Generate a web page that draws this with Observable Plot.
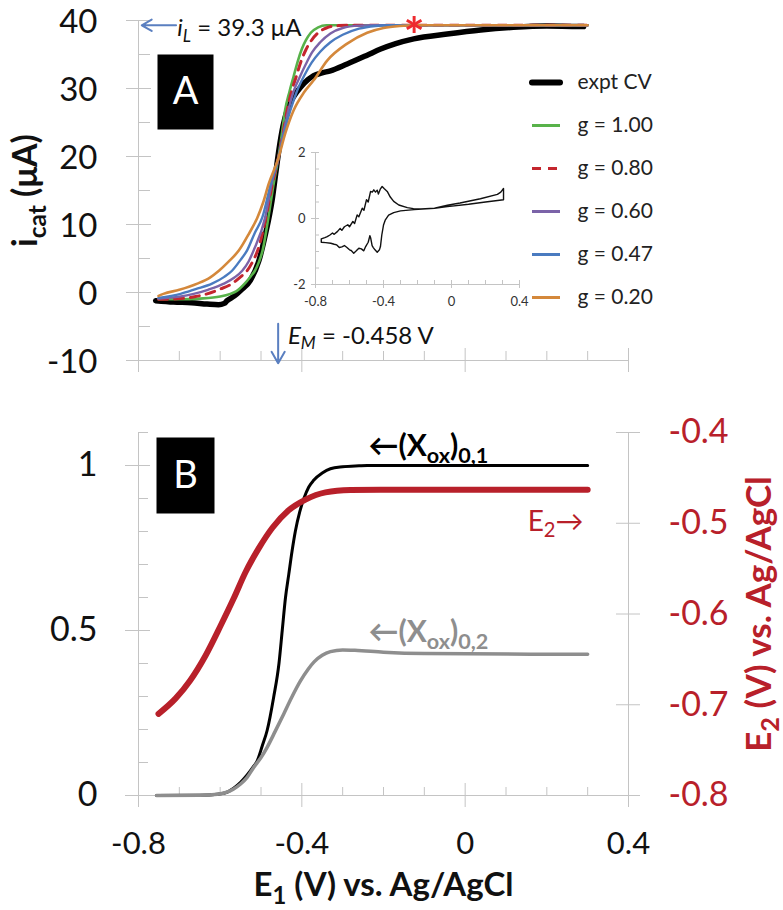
<!DOCTYPE html>
<html><head><meta charset="utf-8">
<script src="https://cdn.jsdelivr.net/npm/d3@7"></script>
<script src="https://cdn.jsdelivr.net/npm/@observablehq/plot@0.6"></script>
<style>
html,body{margin:0;padding:0;background:#fff;}
#chart{position:relative;width:783px;height:910px;overflow:hidden;background:#fff;}
#chart svg{position:absolute;overflow:visible;}
</style></head><body><div id="chart"></div>
<script>
// ---------------- data ----------------
const E_M = -0.458;      // V
const I_L = 39.3;        // µA

// Panel A: [E1 (V), i_cat (µA)]
const exptCV = [[-0.758,-1.2],[-0.714,-1.4],[-0.67,-1.5],[-0.632,-1.7],[-0.604,-1.8],[-0.59,-1.6],[-0.583,-1.2],[-0.565,-0.5],[-0.55,0.3],[-0.526,1.8],[-0.505,4.7],[-0.489,8.6],[-0.473,13.5],[-0.464,17.5],[-0.456,21],[-0.446,24.5],[-0.436,26.8],[-0.42,28.8],[-0.403,30.2],[-0.385,31.3],[-0.371,31.9],[-0.35,32.3],[-0.33,32.6],[-0.289,33.6],[-0.24,34.9],[-0.207,35.8],[-0.17,36.6],[-0.126,37.3],[-0.044,38.0],[0.038,38.6],[0.118,39.0],[0.2,39.2],[0.29,39.1]];
const simG100 = [[-0.751,-1.0],[-0.70,-1.0],[-0.65,-0.9],[-0.60,-0.6],[-0.575,-0.2],[-0.56,0.2],[-0.54,1.3],[-0.525,2.4],[-0.515,3.2],[-0.505,4.5],[-0.496,6.2],[-0.482,11],[-0.469,16],[-0.458,19.65],[-0.449,23.3],[-0.441,26.8],[-0.43,29.6],[-0.42,31.8],[-0.41,34.0],[-0.40,35.8],[-0.39,37.1],[-0.378,38.2],[-0.36,39.0],[-0.34,39.3],[0.3,39.3]];
const simG080 = [[-0.751,-1.0],[-0.70,-0.9],[-0.66,-0.6],[-0.632,-0.2],[-0.60,0.5],[-0.571,1.3],[-0.55,2.3],[-0.534,3.2],[-0.52,4.6],[-0.508,6.2],[-0.488,11],[-0.472,16],[-0.458,19.65],[-0.446,23.4],[-0.436,26.8],[-0.425,29.6],[-0.414,31.7],[-0.402,34],[-0.39,35.7],[-0.375,37.2],[-0.36,38.2],[-0.34,38.9],[-0.31,39.25],[-0.28,39.3],[0.3,39.3]];
const simG060 = [[-0.751,-0.9],[-0.70,-0.6],[-0.665,-0.2],[-0.63,0.4],[-0.591,1.3],[-0.565,2.2],[-0.546,3.2],[-0.53,4.6],[-0.518,6.2],[-0.49,11],[-0.474,16],[-0.458,19.65],[-0.445,23.5],[-0.433,26.8],[-0.42,29.6],[-0.405,31.7],[-0.39,33.6],[-0.375,35.3],[-0.355,36.8],[-0.33,38.1],[-0.30,38.9],[-0.26,39.25],[-0.23,39.3],[0.3,39.3]];
const simG047 = [[-0.751,-0.8],[-0.697,-0.2],[-0.66,0.5],[-0.62,1.3],[-0.59,2.3],[-0.571,3.2],[-0.55,4.8],[-0.534,6.2],[-0.515,8.8],[-0.497,11],[-0.476,16],[-0.458,19.65],[-0.443,23.6],[-0.428,26.8],[-0.412,29.6],[-0.395,31.8],[-0.376,33.8],[-0.355,35.4],[-0.33,36.8],[-0.30,37.9],[-0.26,38.8],[-0.22,39.2],[-0.19,39.3],[0.3,39.3]];
const simG020 = [[-0.751,-0.5],[-0.739,-0.2],[-0.70,0.4],[-0.656,1.3],[-0.625,2.2],[-0.603,3.2],[-0.58,4.5],[-0.554,6.2],[-0.53,8.6],[-0.509,11],[-0.495,13.2],[-0.481,16],[-0.458,19.65],[-0.44,23.5],[-0.42,26.8],[-0.395,29.4],[-0.371,31.2],[-0.338,34.1],[-0.289,36.6],[-0.24,38.2],[-0.2,38.9],[-0.16,39.2],[-0.126,39.3],[0.3,39.3]];
const seriesNames = ["expt CV","g = 1.00","g = 0.80","g = 0.60","g = 0.47","g = 0.20"];
const seriesColors = ["#000000","#58b24a","#c4262e","#7b63a8","#4a7bc0","#d4883b"];
const asteriskAt = [[-0.125, 39.3]];

// Inset CV loop: [E (V), i (µA)]
const insetCV = [[-0.766,-0.62],[-0.745,-0.58],[-0.731,-0.55],[-0.715,-0.50],[-0.70,-0.44],[-0.69,-0.48],[-0.67,-0.39],[-0.655,-0.30],[-0.645,-0.36],[-0.63,-0.25],[-0.61,-0.19],[-0.60,-0.25],[-0.58,-0.09],[-0.57,-0.15],[-0.555,0.11],[-0.545,0.05],[-0.525,0.31],[-0.515,0.25],[-0.50,0.57],[-0.49,0.50],[-0.476,0.82],[-0.466,0.80],[-0.457,0.87],[-0.447,0.80],[-0.437,0.86],[-0.43,0.74],[-0.418,0.90],[-0.408,0.97],[-0.395,0.90],[-0.378,0.82],[-0.36,0.65],[-0.34,0.52],[-0.31,0.41],[-0.26,0.33],[-0.224,0.30],[-0.18,0.29],[-0.1,0.31],[-0.024,0.40],[0.05,0.47],[0.17,0.6],[0.27,0.73],[0.29,0.8],[0.306,0.91],
  [0.306,0.57],[0.2,0.5],[0.1,0.43],[-0.024,0.36],[-0.1,0.31],[-0.22,0.27],[-0.3,0.23],[-0.34,0.18],[-0.37,0.1],[-0.39,-0.05],[-0.40,-0.2],[-0.41,-0.5],[-0.418,-0.85],[-0.424,-0.95],[-0.437,-1.02],[-0.45,-0.95],[-0.46,-0.88],[-0.467,-0.82],[-0.475,-0.6],[-0.48,-0.52],[-0.49,-0.72],[-0.505,-0.85],[-0.516,-0.98],[-0.53,-0.92],[-0.545,-0.9],[-0.56,-0.98],[-0.575,-1.05],[-0.59,-0.97],[-0.60,-0.95],[-0.615,-0.88],[-0.63,-0.82],[-0.645,-0.86],[-0.66,-0.88],[-0.675,-0.8],[-0.69,-0.78],[-0.71,-0.75],[-0.74,-0.73],[-0.766,-0.72],[-0.766,-0.62]];

// Panel B: [E1 (V), value]
const xox01 = [[-0.756,0],[-0.65,0.001],[-0.607,0.004],[-0.58,0.012],[-0.567,0.022],[-0.55,0.04],[-0.534,0.062],[-0.52,0.085],[-0.509,0.106],[-0.497,0.15],[-0.485,0.197],[-0.469,0.298],[-0.456,0.4],[-0.448,0.5],[-0.44,0.6],[-0.432,0.67],[-0.424,0.74],[-0.416,0.80],[-0.405,0.86],[-0.395,0.9],[-0.383,0.935],[-0.371,0.955],[-0.35,0.977],[-0.33,0.99],[-0.3,0.996],[-0.26,0.999],[-0.24,1.0],[0.3,1.0]];
const xox02 = [[-0.756,0],[-0.65,0.001],[-0.607,0.004],[-0.58,0.012],[-0.567,0.02],[-0.55,0.035],[-0.534,0.055],[-0.518,0.085],[-0.5,0.115],[-0.485,0.146],[-0.465,0.195],[-0.444,0.248],[-0.425,0.297],[-0.403,0.348],[-0.385,0.382],[-0.37,0.405],[-0.35,0.425],[-0.33,0.436],[-0.3,0.441],[-0.27,0.44],[-0.2,0.434],[-0.1,0.43],[0.3,0.428]];
const e2Curve = [[-0.751,-0.710],[-0.709,-0.693],[-0.673,-0.673],[-0.636,-0.646],[-0.599,-0.613],[-0.567,-0.583],[-0.538,-0.554],[-0.506,-0.528],[-0.472,-0.505],[-0.433,-0.486],[-0.391,-0.474],[-0.342,-0.466],[-0.281,-0.4634],[-0.207,-0.463],[0.3,-0.463]];

// ticks
const yTicksA = [-10,0,10,20,30,40];
const yMinorA = [-5,5,15,25,35];
const xTicks = [-0.8,-0.4,0,0.4];
const xMinor = [-0.7,-0.6,-0.5,-0.3,-0.2,-0.1,0.1,0.2,0.3];
const yTicksBL = [0,0.5,1];
const yMinorBL = [0.1,0.2,0.3,0.4,0.6,0.7,0.8,0.9,1.1];
const yTicksBR = [-0.8,-0.7,-0.6,-0.5,-0.4];
const insetYTicks = [-2,0,2];
const insetYMinor = [-1.5,-1,-0.5,0.5,1,1.5];
const insetXTicks = [-0.8,-0.4,0,0.4];
const insetXMinor = [-0.7,-0.6,-0.5,-0.3,-0.2,-0.1,0.1,0.2,0.3];

// ---------------- styling ----------------
const FONT = "Lato, 'Open Sans', sans-serif";
const AX = "#c4c4c4";
const RED = "#b8202a";
const GRAY = "#8e8e8e";
const BLUEARROW = "#5a7fc0";
const fmt = d => String(d);
const e2ToY = e => (e + 0.8) / 0.4 * 1.1;   // right axis (E2) onto left scale (0..1.1)
const X = d => d[0], Y = d => d[1];

const chart = document.getElementById("chart");

// ---------------- Panel A ----------------
const plotA = Plot.plot({
  width: 783, height: 390, marginLeft: 138, marginRight: 155, marginTop: 20, marginBottom: 30,
  x: {domain: [-0.8, 0.4], axis: null},
  y: {domain: [-10, 40], axis: null},
  style: {background: "transparent", fontFamily: FONT, overflow: "visible"},
  marks: [
    Plot.frame({fill: "black", stroke: null, insetLeft: 19, insetTop: 34, insetRight: 415, insetBottom: 231}),
    Plot.text(["A"], {text: d => d, frameAnchor: "top-left", textAnchor: "middle", dx: 47, dy: 71, fill: "white", fontSize: 38, lineAnchor: "middle"}),
    Plot.ruleX([-0.8], {stroke: AX}),
    Plot.ruleY([-10], {stroke: AX}),
    Plot.tickY(yMinorA, {y: d => d, stroke: AX, insetRight: 478}),
    Plot.tickY(yTicksA, {y: d => d, stroke: AX, dx: -12, insetRight: 465}),
    Plot.tickX(xMinor, {x: d => d, stroke: AX, insetTop: 331}),
    Plot.tickX(xTicks, {x: d => d, stroke: AX, dy: 12, insetTop: 316}),
    Plot.text(yTicksA, {y: d => d, text: fmt, frameAnchor: "left", textAnchor: "end", dx: -41, dy: 2, fontSize: 33, fill: "#111"}),
    Plot.text(["i_{cat} (μA)"], {text: d => d, frameAnchor: "left", textAnchor: "middle", dx: -112, rotate: -90, fontSize: 34, fontWeight: "bold", fill: "#111"}),
    Plot.line(exptCV, {x: X, y: Y, stroke: seriesColors[0], strokeWidth: 5.5, curve: "monotone-x", strokeLinecap: "round"}),
    Plot.line(simG100, {x: X, y: Y, stroke: seriesColors[1], strokeWidth: 2.6, curve: "monotone-x"}),
    Plot.line(simG080, {x: X, y: Y, stroke: seriesColors[2], strokeWidth: 3, curve: "monotone-x", strokeDasharray: "9,7"}),
    Plot.line(simG060, {x: X, y: Y, stroke: seriesColors[3], strokeWidth: 2.4, curve: "monotone-x"}),
    Plot.line(simG047, {x: X, y: Y, stroke: seriesColors[4], strokeWidth: 2.4, curve: "monotone-x"}),
    Plot.line(simG020, {x: X, y: Y, stroke: seriesColors[5], strokeWidth: 2.6, curve: "monotone-x"}),
    Plot.arrow([I_L], {x1: -0.708, x2: -0.792, y1: d => d, y2: d => d, stroke: BLUEARROW, strokeWidth: 2, headLength: 10}),
    Plot.text([I_L], {x: -0.705, y: d => d, text: d => `%{i}%_{L} = ${d} μA`, textAnchor: "start", lineAnchor: "middle", dy: 3, fontSize: 24, fill: "#111"}),
    Plot.arrow([E_M], {x1: d => d, x2: d => d, y1: -4.6, y2: -10.4, stroke: BLUEARROW, strokeWidth: 2, headLength: 10}),
    Plot.text([E_M], {x: -0.434, y: -6.4, text: d => `%{E}%_{M} = ${d} V`, textAnchor: "start", lineAnchor: "middle", fontSize: 24, fill: "#111"}),
    Plot.text(asteriskAt, {x: X, y: Y, text: () => "*", fill: "#ee2a2f", fontSize: 50, fontWeight: "bold", lineAnchor: "middle", dy: 13})
  ]
});
plotA.style.left = "0px"; plotA.style.top = "0px";
chart.appendChild(plotA);

// ---------------- Inset ----------------
const plotInset = Plot.plot({
  width: 260, height: 180, marginLeft: 50, marginRight: 6, marginTop: 17, marginBottom: 31,
  x: {domain: [-0.8, 0.4], axis: null},
  y: {domain: [-2, 2], axis: null},
  style: {background: "transparent", fontFamily: FONT, overflow: "visible"},
  marks: [
    Plot.ruleX([-0.8], {stroke: AX}),
    Plot.ruleY([-2], {stroke: AX}),
    Plot.tickY(insetYMinor, {y: d => d, stroke: AX, insetRight: 200}),
    Plot.tickY(insetYTicks, {y: d => d, stroke: AX, dx: -4, insetRight: 196}),
    Plot.tickX(insetXMinor, {x: d => d, stroke: AX, insetTop: 128}),
    Plot.tickX(insetXTicks, {x: d => d, stroke: AX, dy: 4, insetTop: 124}),
    Plot.text(insetYTicks, {y: d => d, text: fmt, frameAnchor: "left", textAnchor: "end", dx: -10, fontSize: 13, fill: "#333"}),
    Plot.text(insetXTicks, {x: d => d, text: fmt, frameAnchor: "bottom", textAnchor: "middle", lineAnchor: "middle", dy: 17, fontSize: 13, fill: "#333"}),
    Plot.line(insetCV, {x: X, y: Y, stroke: "#111", strokeWidth: 1.4})
  ]
});
plotInset.style.left = "265px"; plotInset.style.top = "135px";
chart.appendChild(plotInset);

// ---------------- Legend (panel A) ----------------
const legendRows = seriesNames.map((name, k) => ({name, color: seriesColors[k]}));
const plotLegend = Plot.plot({
  width: 230, height: 260, margin: 0,
  x: {domain: [0, 1], range: [12, 40], axis: null},
  y: {type: "point", domain: seriesNames, range: [21, 237], padding: 0, axis: null},
  color: {type: "identity"},
  style: {background: "transparent", fontFamily: FONT, overflow: "visible"},
  marks: [
    Plot.ruleY(legendRows.filter(r => r.name === "expt CV"), {y: "name", x1: 0, x2: 1, stroke: "color", strokeWidth: 6, strokeLinecap: "round"}),
    Plot.ruleY(legendRows.filter(r => r.name === "g = 0.80"), {y: "name", x1: 0, x2: 1, stroke: "color", strokeWidth: 3, strokeDasharray: "9,7"}),
    Plot.ruleY(legendRows.filter(r => r.name !== "expt CV" && r.name !== "g = 0.80"), {y: "name", x1: 0, x2: 1, stroke: "color", strokeWidth: 3}),
    Plot.text(legendRows, {x: 1, y: "name", text: "name", dx: 17, textAnchor: "start", fontSize: 21, fill: "#222"})
  ]
});
plotLegend.style.left = "520px"; plotLegend.style.top = "60px";
chart.appendChild(plotLegend);

// ---------------- Panel B ----------------
const plotB = Plot.plot({
  width: 783, height: 520, marginLeft: 138, marginRight: 155, marginTop: 42, marginBottom: 115,
  x: {domain: [-0.8, 0.4], axis: null},
  y: {domain: [0, 1.1], axis: null},
  style: {background: "transparent", fontFamily: FONT, overflow: "visible"},
  marks: [
    Plot.frame({fill: "black", stroke: null, insetLeft: 18, insetTop: 5, insetRight: 414, insetBottom: 282}),
    Plot.text(["B"], {text: d => d, frameAnchor: "top-left", textAnchor: "middle", dx: 47, dy: 43, fill: "white", fontSize: 38, lineAnchor: "middle"}),
    Plot.ruleX([-0.8], {stroke: AX}),
    Plot.ruleX([0.4], {stroke: AX}),
    Plot.ruleY([0], {stroke: AX}),
    Plot.tickY(yMinorBL, {y: d => d, stroke: AX, insetRight: 480}),
    Plot.tickY(yTicksBL, {y: d => d, stroke: AX, dx: -13, insetRight: 465}),
    Plot.tickY(yTicksBR, {y: e2ToY, stroke: AX, dx: 12, insetLeft: 466}),
    Plot.tickX(xMinor, {x: d => d, stroke: AX, insetTop: 355}),
    Plot.tickX(xTicks, {x: d => d, stroke: AX, dy: 12, insetTop: 339}),
    Plot.text(yTicksBL, {y: d => d, text: fmt, frameAnchor: "left", textAnchor: "end", dx: -41, fontSize: 34, fill: "#111"}),
    Plot.text(yTicksBR, {y: e2ToY, text: fmt, frameAnchor: "right", textAnchor: "start", dx: 40, fontSize: 34, fill: RED}),
    Plot.text(xTicks, {x: d => d, text: fmt, frameAnchor: "bottom", textAnchor: "middle", lineAnchor: "middle", dy: 49, fontSize: 31, fill: "#111"}),
    Plot.text(["E_{1} (V) vs. Ag/AgCl"], {text: d => d, frameAnchor: "bottom", textAnchor: "middle", lineAnchor: "middle", dy: 90, fontSize: 33, fontWeight: "bold", fill: "#111"}),
    Plot.text(["E_{2} (V) vs. Ag/AgCl"], {text: d => d, frameAnchor: "right", textAnchor: "middle", dx: 131, rotate: -90, fontSize: 35, fontWeight: "bold", fill: RED}),
    Plot.line(xox01, {x: X, y: Y, stroke: "#000", strokeWidth: 3, curve: "monotone-x"}),
    Plot.line(xox02, {x: X, y: Y, stroke: GRAY, strokeWidth: 3.5, curve: "monotone-x"}),
    Plot.line(e2Curve, {x: X, y: d => e2ToY(d[1]), stroke: RED, strokeWidth: 6, curve: "monotone-x", strokeLinecap: "round"}),
    Plot.text(["←(X_{ox})_{0,1}"], {text: d => d, x: -0.237, y: 1.058, textAnchor: "start", lineAnchor: "middle", fontSize: 30, fontWeight: "bold", fill: "#000"}),
    Plot.text(["←(X_{ox})_{0,2}"], {text: d => d, x: -0.237, y: 0.494, textAnchor: "start", lineAnchor: "middle", fontSize: 30, fontWeight: "bold", fill: GRAY}),
    Plot.text(["E_{2}→"], {text: d => d, x: 0.153, y: 0.83, textAnchor: "start", lineAnchor: "middle", fontSize: 28, fill: RED})
  ]
});
plotB.style.left = "0px"; plotB.style.top = "390px";
chart.appendChild(plotB);

// ---------------- subscripts / italics as real tspans (dy-shifted) ----------------
d3.select(chart).selectAll("text").each(function () {
  const t = this.textContent;
  if (!/(_\{|%\{|%_\{)/.test(t)) return;
  const fs = parseFloat(getComputedStyle(this).fontSize) || 16;
  const sh = fs * 0.24;
  let cur = 0;
  const sel = d3.select(this);
  sel.text(null);
  for (const p of t.split(/(%_\{[^}]*\}|_\{[^}]*\}|%\{[^}]*\})/)) {
    if (!p) continue;
    const isSub = p.startsWith("%_{") || p.startsWith("_{");
    const italic = p.startsWith("%");
    const body = p.startsWith("%_{") ? p.slice(3, -1) : (p.startsWith("_{") || p.startsWith("%{")) ? p.slice(2, -1) : p;
    const ts = sel.append("tspan").text(body);
    const target = isSub ? sh : 0;
    if (target - cur !== 0) ts.attr("dy", (target - cur).toFixed(2));
    cur = target;
    if (isSub) ts.attr("font-size", (fs * 0.72).toFixed(1));
    if (italic) ts.attr("font-style", "italic");
  }
});
</script></body></html>
